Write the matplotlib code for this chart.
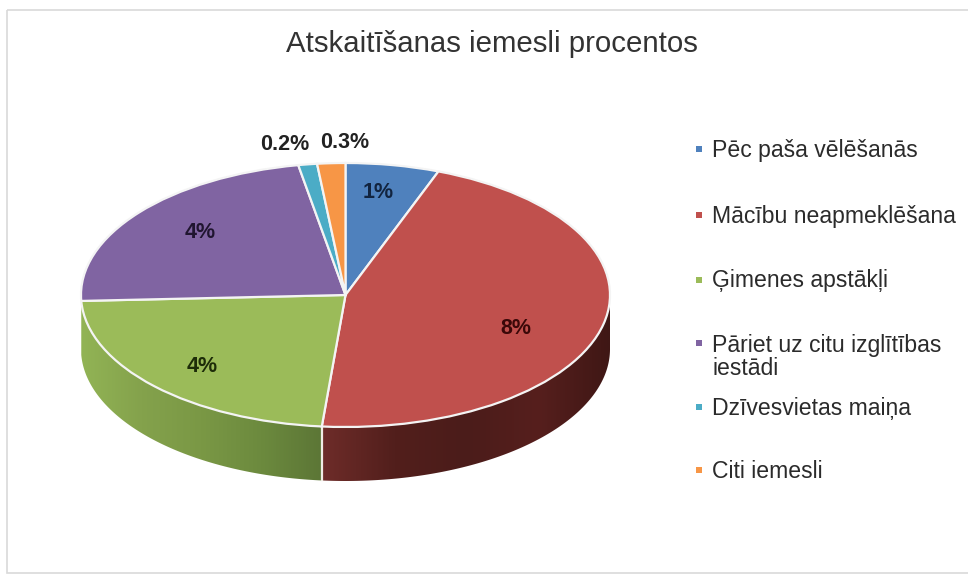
import numpy as np
import matplotlib
matplotlib.use("Agg")
import matplotlib.pyplot as plt
from matplotlib.colors import LinearSegmentedColormap
from matplotlib.patches import Rectangle, Polygon

categories = ["Pēc paša vēlēšanās", "Mācību neapmeklēšana", "Ģimenes apstākļi",
              "Pāriet uz citu izglītības\niestādi", "Dzīvesvietas maiņa", "Citi iemesli"]
values = [1, 8, 4, 4, 0.2, 0.3]
value_labels = ["1%", "8%", "4%", "4%", "0.2%", "0.3%"]
colors = ["#4f81bd", "#c0504d", "#9bbb59", "#8064a2", "#4bacc6", "#f79646"]
label_colors = ["#12243f", "#3a0808", "#1d2c08", "#201530", "#222222", "#222222"]
title = "Atskaitīšanas iemesli procentos"

plt.rcParams["font.family"] = ["Liberation Sans", "DejaVu Sans"]
W, H = 968, 575
fig = plt.figure(figsize=(W / 100, H / 100), dpi=100, facecolor="white")

# Pie top ellipse box in pixels; the axes also holds the side wall below it
L, R, T, B = 81, 610, 163, 427
WALL = 54
DEPTH = 2 * WALL / (B - T)
ax = fig.add_axes([L / W, 1 - (B + WALL) / H, (R - L) / W, (B + WALL - T) / H])
ax.pie(values, colors=colors, startangle=90, counterclock=False, radius=1,
       wedgeprops=dict(edgecolor="#f4f4f4", linewidth=1.6, zorder=5))

# Side wall, from the same values, with a left-to-right gradient
shades = {1: ["#6e2c29", "#521f1c", "#4b1c1a", "#561f1d", "#3f1715"],
          2: ["#92b455", "#84a24c", "#7a9845", "#6c8a3e", "#5c7636"]}
edges = np.cumsum([0] + values) / sum(values) * 2 * np.pi
for idx, stops in shades.items():
    cmap = LinearSegmentedColormap.from_list("w", stops)
    a0, a1 = max(edges[idx], np.pi / 2), min(edges[idx + 1], 3 * np.pi / 2)
    t = np.linspace(a0, a1, 200)
    xs, ys = np.sin(t), np.cos(t)
    outline = np.column_stack([np.r_[xs, xs[::-1]], np.r_[ys, ys[::-1] - DEPTH]])
    poly = Polygon(outline, closed=True, facecolor="none", edgecolor="none", transform=ax.transData)
    ax.add_patch(poly)
    grad = np.linspace(0, 1, 256)[None, :]
    im = ax.imshow(grad, cmap=cmap, aspect="auto", interpolation="bilinear", zorder=1,
                   extent=(xs.min(), xs.max(), -1 - DEPTH, 1))
    im.set_clip_path(poly)
ax.set_xlim(-1, 1)
ax.set_ylim(-1 - DEPTH, 1)
ax.set_aspect("auto")
ax.set_zorder(2)
seam = edges[2]
ax.plot([np.sin(seam)] * 2, [np.cos(seam), np.cos(seam) - DEPTH], color="#f0ece4", lw=1.6,
        clip_on=False, zorder=3)

# Overlay in pixel coordinates
ov = fig.add_axes([0, 0, 1, 1], facecolor="none")
ov.set_xlim(0, W)
ov.set_ylim(H, 0)
ov.axis("off")
ov.set_zorder(3)

# Chart frame
ov.add_patch(Rectangle((7, 10), W + 20, 563, fill=False, edgecolor="#d9d9d9", lw=1.2, clip_on=False))

ov.text(492, 44, title, ha="center", va="center", fontsize=21.2, color="#333333")

label_xy = [(378, 192), (516, 329), (202, 367), (200, 233), (285, 144), (345, 143)]
for (x, y), s, c in zip(label_xy, value_labels, label_colors):
    ov.text(x, y, s, ha="center", va="center", fontsize=15.5, fontweight="bold", color=c)

legend_y = [150, 216, 281, 357, 408, 471]
for y, s, c in zip(legend_y, categories, colors):
    my = y - 14 if "\n" in s else y - 1
    ov.add_patch(Rectangle((696, my - 3), 6, 6, color=c, lw=0))
    ov.text(712, y, s, ha="left", va="center", fontsize=16.6, color="#2b2b2b", linespacing=0.98)

fig.savefig("out.png", dpi=100, facecolor="white")
